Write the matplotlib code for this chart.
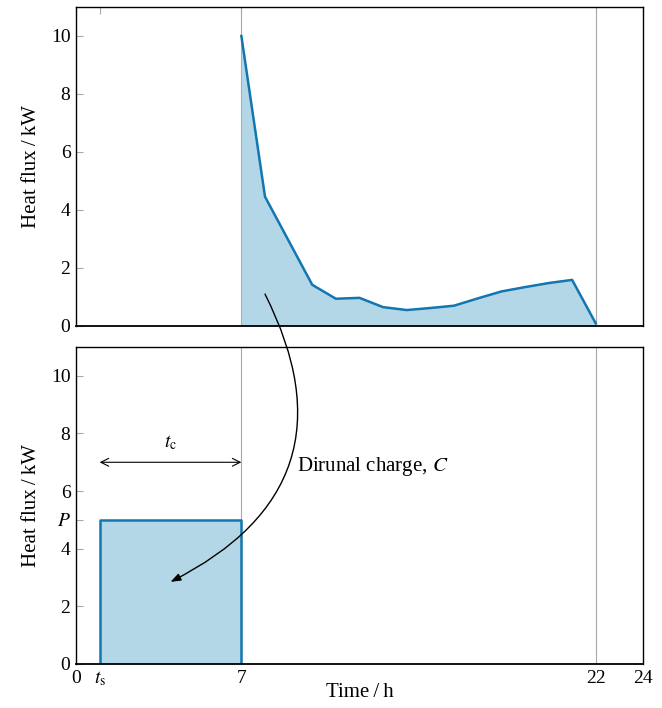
import matplotlib.pyplot as plt
from matplotlib.patches import ConnectionPatch

plt.rcParams["font.family"] = ["Liberation Serif", "DejaVu Serif"]
plt.rcParams["mathtext.fontset"] = "stix"
plt.rcParams["font.size"] = 14

LINE = "#1276b0"
FILL = "#b4d7e7"
GRID = "#a8a8a8"

# top panel: demand profile
hours = [7, 8, 9, 10, 11, 12, 13, 14, 15, 16, 17, 18, 19, 20, 21, 22]
demand = [10.0, 4.46, 2.94, 1.42, 0.94, 0.97, 0.65, 0.55, 0.62, 0.70, 0.95, 1.19, 1.34, 1.48, 1.59, 0.09]

# bottom panel: charging block
t_s = 1
t_end = 7
P = 5
charge_x = [t_s, t_s, t_end, t_end]
charge_y = [0, P, P, 0]

xticks = [0, t_s, 7, 22, 24]
xticklabels = ["0", r"$t_\mathrm{s}$", "7", "22", "24"]
yticks_top = [0, 2, 4, 6, 8, 10]
yticks_bot = [0, 2, 4, P, 6, 8, 10]
yticklabels_bot = ["0", "2", "4", "$P$", "6", "8", "10"]

fig = plt.figure(figsize=(6.62, 7.08), dpi=100)
W, H = 662, 708
ax1 = fig.add_axes([76 / W, 1 - 326 / H, (643 - 76) / W, (326 - 7) / H])
ax2 = fig.add_axes([76 / W, 1 - 664 / H, (643 - 76) / W, (664 - 347) / H])

for ax in (ax1, ax2):
    ax.set_xlim(0, 24)
    ax.set_ylim(0, 11)
    ax.axvline(7, color=GRID, lw=0.8, zorder=0)
    ax.axvline(22, color=GRID, lw=0.8, zorder=0)
    ax.set_xticks(xticks)
    ax.tick_params(axis="both", direction="in", color=GRID, length=5, width=0.8,
                   labelsize=14, pad=4)
    ax.tick_params(axis="x", top=True, bottom=False)
    ax.set_ylabel("Heat flux\u2009/\u2009kW", fontsize=15, labelpad=7)
    for s in ax.spines.values():
        s.set_linewidth(1.0)
    ax.spines["bottom"].set_linewidth(1.3)

ax1.fill_between(hours, demand, color=FILL, lw=0)
ax1.plot(hours, demand, color=LINE, lw=1.8)
ax1.set_yticks(yticks_top)
ax1.set_xticklabels([])

ax2.fill(charge_x, charge_y, color=FILL, lw=0)
ax2.plot(charge_x, charge_y, color=LINE, lw=1.8)
ax2.set_yticks(yticks_bot)
ax2.set_yticklabels(yticklabels_bot)
ax2.set_xticklabels(xticklabels)
ax2.tick_params(axis="x", bottom=True, length=0)
ax2.set_xlabel("Time\u2009/\u2009h", fontsize=15, labelpad=-4)

ax2.annotate("", xy=(t_end, 7), xytext=(t_s, 7),
             arrowprops=dict(arrowstyle="<->", color="black", lw=0.8, shrinkA=0, shrinkB=0))
ax2.text((t_s + t_end) / 2, 7.35, r"$t_\mathrm{c}$", ha="center", va="bottom", fontsize=14)
ax2.text(9.35, 6.85, "Dirunal charge, $C$", ha="left", va="center", fontsize=15)

arrow = ConnectionPatch(xyA=(8.0, 1.1), coordsA=ax1.transData,
                        xyB=(4.0, 2.85), coordsB=ax2.transData,
                        arrowstyle="-|>,head_length=0.6,head_width=0.22",
                        connectionstyle="arc3,rad=-0.5",
                        color="black", lw=1.0, shrinkA=0, shrinkB=0)
fig.add_artist(arrow)

fig.savefig("out.png", dpi=100)
